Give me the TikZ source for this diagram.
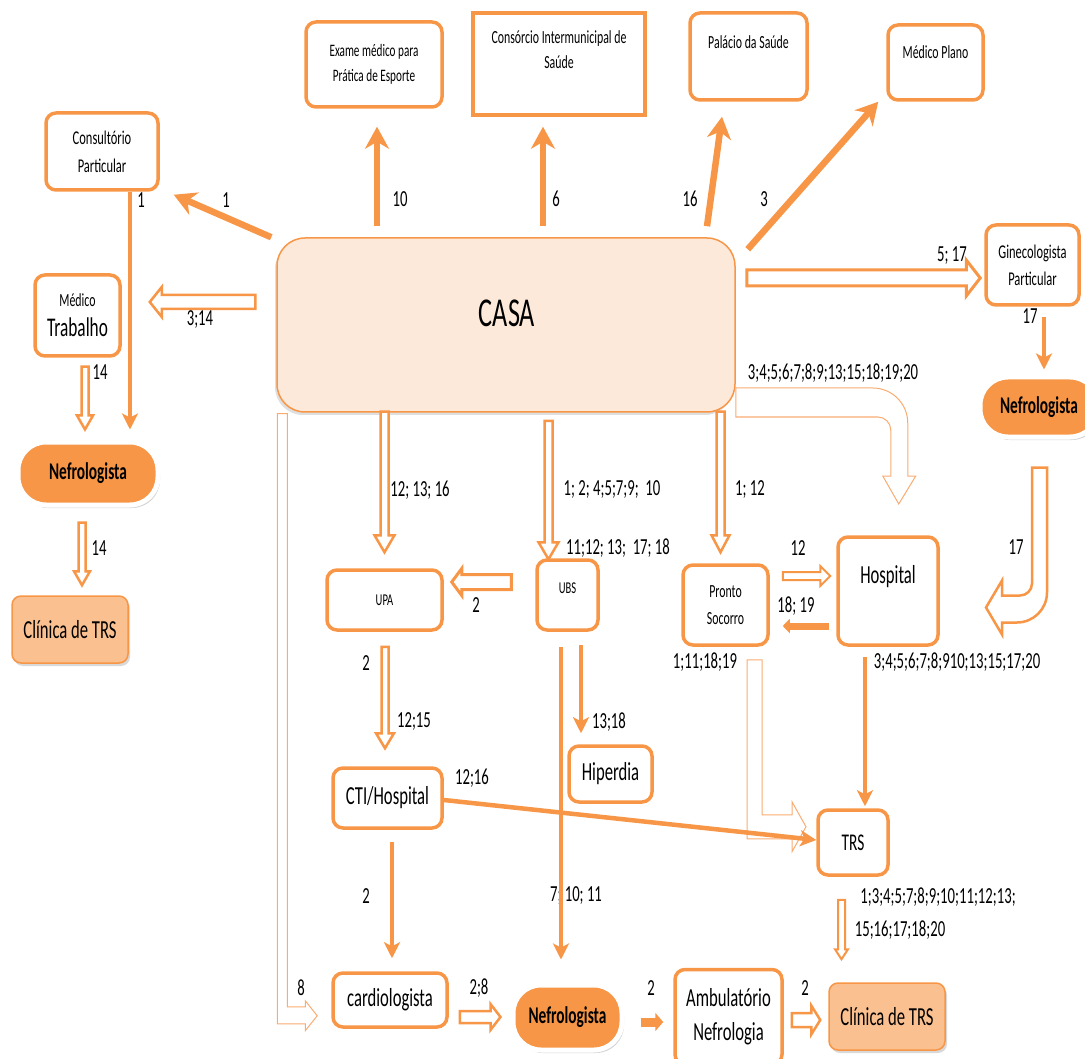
\documentclass[tikz,border=0pt]{standalone}
\usepackage{fontspec}
\setmainfont{Carlito}[FakeStretch=0.64]
\usetikzlibrary{arrows.meta,calc,shadows}
\definecolor{orng}{HTML}{F79646}
\definecolor{orngl}{HTML}{F9AC72}
\definecolor{peach}{HTML}{FDE9D9}
\definecolor{clin}{HTML}{FAC090}

% hollow block arrow: [style]{from}{to}{shaft half width}{head half width}{head length}
\newcommand\blockarrow[6][]{%
  \path #2 coordinate (ba-a) #3 coordinate (ba-b);
  \path ($(ba-b)!#6!(ba-a)$) coordinate (ba-h);
  \draw[#1] ($(ba-a)!#4!90:(ba-b)$) -- ($(ba-h)!#4!-90:(ba-a)$) -- ($(ba-h)!#5!-90:(ba-a)$)
    -- (ba-b) -- ($(ba-h)!#5!90:(ba-a)$) -- ($(ba-h)!#4!90:(ba-a)$) -- ($(ba-a)!#4!-90:(ba-b)$) -- cycle;
}

\begin{document}
\begin{tikzpicture}[x=1pt,y=-1pt,
  box/.style={draw=orng, line width=3.5pt, rounded corners=10pt, fill=white, align=center, inner sep=0pt},
  nefro/.style={fill=orng, draw=white, line width=5pt, rounded corners=28pt, align=center, inner sep=0pt,
    font=\fontsize{24}{28}\selectfont\bfseries, drop shadow={shadow xshift=2pt, shadow yshift=-3pt, opacity=0.35}},
  clinic/.style={fill=clin, draw=orng, line width=1.5pt, rounded corners=9pt, align=center, inner sep=0pt,
    font=\fontsize{26}{30}\selectfont, drop shadow={shadow xshift=2pt, shadow yshift=-3pt, opacity=0.3}},
  txt/.style={align=center, inner sep=0pt},
  lbl/.style={font=\fontsize{23}{26}\selectfont, inner sep=0pt},
  sarrow/.style={draw=orng, line width=6.5pt, -{Stealth[length=22pt,width=24pt,inset=7pt]}},
  marrow/.style={draw=orng, line width=4.5pt, -{Stealth[length=16pt,width=16pt,inset=4pt]}},
  hol/.style={draw=orng, line width=2.5pt, fill=white, line join=miter},
  lightarrow/.style={draw=orngl, line width=1pt, fill=white},
]
\useasboundingbox (0,0) rectangle (1085,1059);

% ---------- boxes ----------
\node[draw=orng, line width=1.5pt, fill=peach, rounded corners=28pt, minimum width=458pt, minimum height=174pt,
  drop shadow={shadow xshift=-2pt, shadow yshift=-3pt, opacity=0.25}] (casa) at (506,325) {};
\node[txt, font=\fontsize{41}{46}\selectfont] (casatxt) at (507,313) {CASA};

\node[box, minimum width=112pt, minimum height=77pt, font=\fontsize{19.5}{28}\selectfont] (cons) at (102,151.5) {Consultório\\Particular};
\node[box, minimum width=85pt, minimum height=81pt, font=\fontsize{27}{30}\selectfont] (mtrab) at (77.5,315.5) {{\fontsize{18.5}{20}\selectfont Médico}\\Trabalho};
\node[nefro, minimum width=140pt, minimum height=63pt] (nefL) at (88,473.5) {Nefrologista};
\node[clinic, minimum width=116pt, minimum height=67pt] (clinL) at (70,629.5) {Clínica de TRS};

\node[box, minimum width=136pt, minimum height=85pt, font=\fontsize{17.5}{25}\selectfont] (exame) at (374,64.5) {Exame médico para\\Prática de Esporte};
\node[box, sharp corners, minimum width=172pt, minimum height=102pt] (consor) at (559,64) {};
\node[txt, font=\fontsize{18.5}{25}\selectfont] (consortxt) at (559,49.5) {Consórcio Intermunicipal de\\Saúde};
\node[box, minimum width=117pt, minimum height=87pt] (pal) at (748.5,56.5) {};
\node[txt, font=\fontsize{18.5}{20}\selectfont] (paltxt) at (748.5,42) {Palácio da Saúde};
\node[box, minimum width=95pt, minimum height=75pt] (mplano) at (935.5,62.5) {};
\node[txt, font=\fontsize{18.5}{20}\selectfont] (mplanotxt) at (935.5,52) {Médico Plano};
\node[box, minimum width=93pt, minimum height=80pt, font=\fontsize{19.5}{27}\selectfont] (gine) at (1032.5,265) {Ginecologista\\Particular};
\node[nefro, minimum width=118pt, minimum height=60pt] (nefR) at (1039,407) {Nefrologista};

\node[box, minimum width=115pt, minimum height=60pt, font=\fontsize{16.5}{18}\selectfont] (upa) at (384.5,600) {UPA};
\node[box, minimum width=61pt, minimum height=70pt] (ubs) at (567.5,595) {};
\node[txt, font=\fontsize{16.5}{18}\selectfont] (ubstxt) at (567.5,588) {UBS};
\node[box, minimum width=85pt, minimum height=80pt, font=\fontsize{18.5}{27}\selectfont] (ps) at (725.5,605) {Pronto\\Socorro};
\node[box, minimum width=100pt, minimum height=108pt] (hosp) at (888,591) {};
\node[txt, font=\fontsize{26}{30}\selectfont] (hosptxt) at (888,577) {Hospital};

\node[box, minimum width=109pt, minimum height=60pt, font=\fontsize{26}{30}\selectfont] (cti) at (387.5,798) {CTI/Hospital};
\node[box, minimum width=83pt, minimum height=56pt, font=\fontsize{26}{30}\selectfont] (hiper) at (610.5,774) {Hiperdia};
\node[box, minimum width=70pt, minimum height=65pt, font=\fontsize{24}{28}\selectfont] (trs) at (853,842.5) {TRS};

\node[box, minimum width=114pt, minimum height=54pt, font=\fontsize{26}{30}\selectfont] (card) at (390,1000) {cardiologista};
\node[nefro, minimum width=109pt, minimum height=65pt] (nefB) at (567.5,1017.5) {Nefrologista};
\node[box, minimum width=107pt, minimum height=95pt, font=\fontsize{26}{34}\selectfont] (amb) at (728.5,1017) {Ambulatório\\Nefrologia};
\node[clinic, minimum width=116pt, minimum height=67pt] (clinB) at (887,1016.5) {Clínica de TRS};

% ---------- labels ----------
\node[lbl] (l01) at (226,200) {1};
\node[lbl] (l02) at (141,200) {1};
\node[lbl] (l03) at (200,320) {3;14};
\node[lbl] (l04) at (100,372) {14};
\node[lbl] (l05) at (99,548) {14};
\node[lbl] (l06) at (400,199) {10};
\node[lbl] (l07) at (556,199) {6};
\node[lbl] (l08) at (690,199) {16};
\node[lbl] (l09) at (764,199) {3};
\node[lbl] (l10) at (952,256) {5; 17};
\node[lbl] (l11) at (1030,316) {17};
\node[lbl] (l12) at (833,373) {3;4;5;6;7;8;9;13;15;18;19;20};
\node[lbl] (l13) at (1016,547) {17};
\node[lbl] (l14) at (420,490) {12; 13; 16};
\node[lbl] (l15) at (612,490) {1; 2; 4;5;7;9;\ \ 10};
\node[lbl] (l16) at (618,548) {11;12; 13;\ \ 17; 18};
\node[lbl] (l17) at (750,490) {1; 12};
\node[lbl] (l18) at (476,605) {2};
\node[lbl] (l19) at (798,548) {12};
\node[lbl] (l20) at (796,606) {18; 19};
\node[lbl] (l21) at (705,662) {1;11;18;19};
\node[lbl] (l22) at (957,662) {3;4;5;6;7;8;910;13;15;17;20};
\node[lbl] (l23) at (366,663) {2};
\node[lbl] (l24) at (414,722) {12;15};
\node[lbl] (l25) at (609,722) {13;18};
\node[lbl] (l26) at (472,778) {12;16};
\node[lbl] (l27) at (576,896) {7; 10; 11};
\node[lbl] (l28) at (366,896) {2};
\node[lbl] (l29) at (938,897) {1;3;4;5;7;8;9;10;11;12;13;};
\node[lbl] (l30) at (900,930) {15;16;17;18;20};
\node[lbl] (l31) at (301,988) {8};
\node[lbl] (l32) at (479,988) {2;8};
\node[lbl] (l33) at (651,988) {2};
\node[lbl] (l34) at (805,988) {2};

% ---------- bent arrows ----------
\draw[lightarrow] ($(casa.east)+(0,63)$) -- ++(137,0) arc[start angle=270,end angle=360,radius=35]
  -- ++(0,53) -- ++(8,0) -- ++(-17,28) -- ++(-16,-28) -- ++(8,0) -- ++(0,-46)
  arc[start angle=0,end angle=-90,radius=13] -- ++(-142,0) -- cycle;
\draw[hol, line width=2.5pt] ($(nefR.south)+(-7,28)$) -- ++(15,0) -- ++(0,125)
  arc[start angle=0,end angle=90,radius=30] -- ++(-15,0) -- ++(0,12) -- ++(-16,-27)
  -- ++(16,-27) -- ++(0,15) -- ++(18,0) arc[start angle=90,end angle=0,radius=12] -- cycle;
\draw[lightarrow] ($(ps.south)+(21.5,13)$) -- ++(15,0) -- ++(0,155) -- ++(30,0) -- ++(0,-13)
  -- ++(14,25) -- ++(-14,25) -- ++(0,-13) -- ++(-45,0) -- cycle;
\draw[lightarrow] ($(casa.south west)+(1,1)$) -- ++(10,0) -- ++(0,593) -- ++(18,0) -- ++(0,-6)
  -- ++(12,15) -- ++(-12,15) -- ++(0,-7) -- ++(-28,0) -- cycle;

% ---------- solid arrows ----------
\draw[sarrow] ($(casa.north west)+(-5,0)$) -- ($(cons.south east)+(14,3)$);
\draw[sarrow] ($(casa.north)+(-129,-11)$) -- ($(exame.south)+(3,18)$);
\draw[sarrow] ($(casa.north)+(37,-11)$) -- ($(consor.south)+(-16,10)$);
\draw[sarrow] ($(casa.north)+(201,-11)$) -- ($(pal.south)+(-26.5,15)$);
\draw[sarrow] ($(casa.north east)+(12,12)$) -- ($(mplano.south west)+(-8,0)$);
\draw[marrow] ($(cons.south)+(28,0)$) -- ($(nefL.north)+(42,-10)$);
\draw[marrow] ($(gine.south)+(11.5,10)$) -- ($(nefR.north)+(5,-5)$);
\draw[draw=orng, line width=7pt, -{Triangle[length=7pt,width=14pt]}] ($(hosp.west)+(-7,35)$) -- ($(ps.east)+(13,21)$);
\draw[marrow] ($(hosp.south)+(-23,10)$) -- ($(trs.north)+(12,-2)$);
\draw[marrow] ($(ubs.south)+(13.5,13)$) -- ($(hiper.north)+(-29.5,-11)$);
\draw[marrow] ($(ubs.south)+(-6.5,15)$) -- ($(nefB.north)+(-6.5,-23)$);
\draw[marrow] ($(cti.east)+(0,2)$) -- ($(trs.west)+(0,-2.5)$);
\draw[marrow] ($(cti.south)+(4.5,12)$) -- ($(card.north)+(2,-13)$);
\draw[draw=orng, line width=9pt, -{Triangle[length=8pt,width=18pt]}] ($(nefB.east)+(16,4.5)$) -- ($(amb.west)+(-10,5)$);

% ---------- hollow block arrows ----------
\blockarrow[hol]{($(casa.west)+(-21,-23)$)}{($(mtrab.east)+(28,-13.5)$)}{7pt}{15pt}{12pt}
\blockarrow[hol]{($(mtrab.south)+(7.5,9)$)}{($(nefL.north)+(-3,-10)$)}{3.5pt}{8pt}{14pt}
\blockarrow[hol]{($(nefL.south)+(-6,15)$)}{($(clinL.north)+(12,-10)$)}{3.5pt}{8pt}{14pt}
\blockarrow[hol, line width=3pt]{($(casa.east)+(11,-47)$)}{($(gine.west)+(-4,13)$)}{8pt}{18pt}{14pt}
\blockarrow[hol]{($(casa.south)+(-121.5,-1)$)}{($(upa.north)+(0,-16)$)}{4pt}{10pt}{17pt}
\blockarrow[hol]{($(casa.south)+(42.5,8)$)}{($(ubs.north)+(-19,1)$)}{4pt}{10pt}{17pt}
\blockarrow[hol]{($(casa.south)+(214.5,-1)$)}{($(ps.north)+(-5,-11)$)}{4pt}{9pt}{17pt}
\blockarrow[hol, line width=3pt]{($(ubs.west)+(-24,-13)$)}{($(upa.east)+(8,-18)$)}{7.5pt}{13.5pt}{10pt}
\blockarrow[hol, line width=2pt]{($(ps.east)+(13,-29)$)}{($(hosp.west)+(-6,-15)$)}{4pt}{10pt}{10pt}
\blockarrow[hol]{($(upa.south)+(0.5,15)$)}{($(cti.north)+(-2.5,-18)$)}{3.5pt}{9pt}{15pt}
\blockarrow[hol]{($(card.east)+(11,17)$)}{($(nefB.west)+(-10,-0.5)$)}{6pt}{13pt}{10pt}
\blockarrow[hol]{($(amb.east)+(8,3)$)}{($(clinB.west)+(-8,3.5)$)}{7pt}{14.5pt}{9pt}
\blockarrow[hol, line width=2pt]{($(trs.south)+(-11.5,23)$)}{($(clinB.north)+(-45.5,-23)$)}{3.5pt}{6.5pt}{10pt}
\end{tikzpicture}
\end{document}
